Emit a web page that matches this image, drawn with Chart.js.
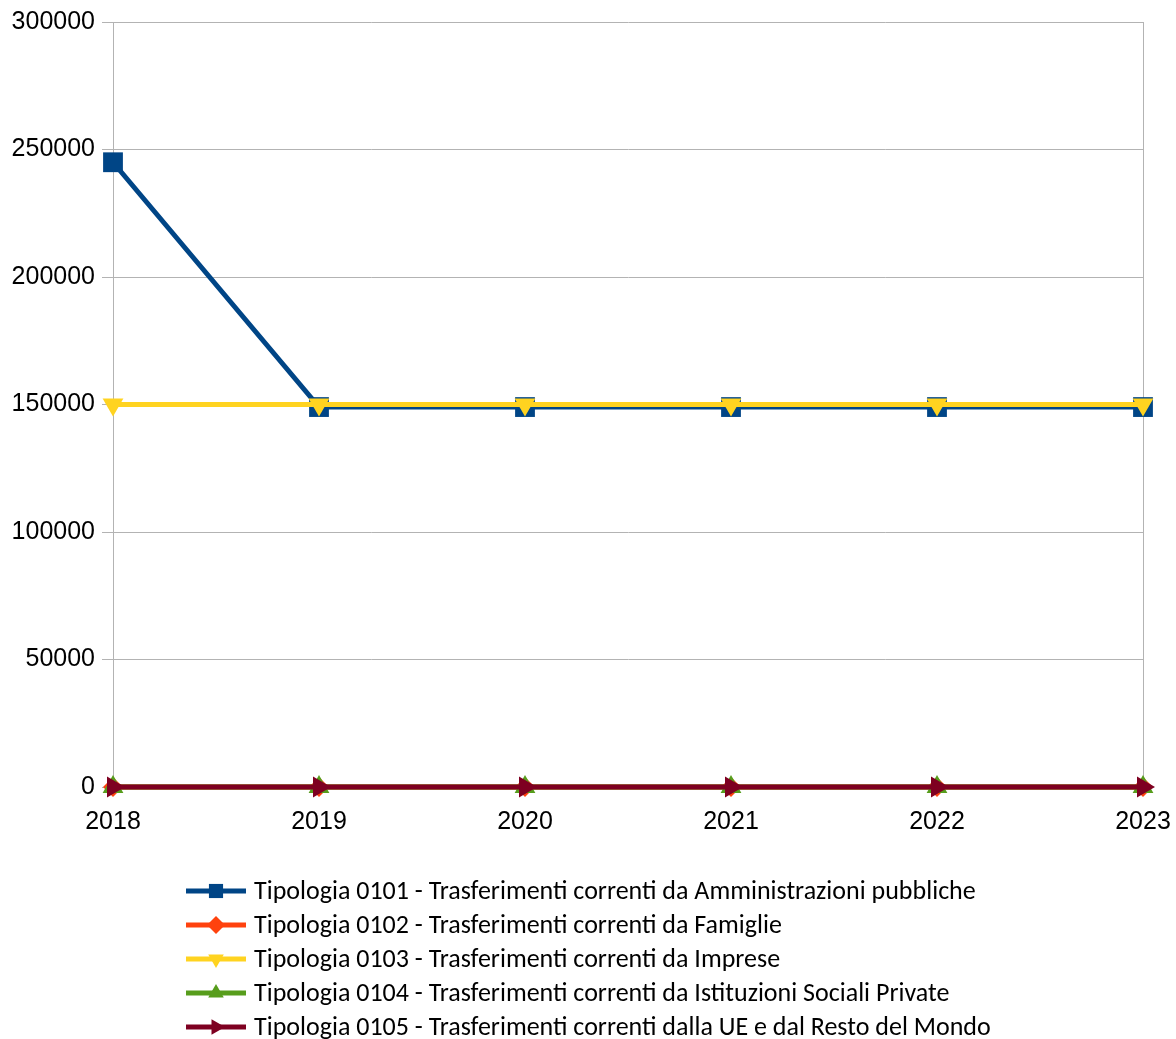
<!DOCTYPE html>
<html>
<head>
<meta charset="utf-8">
<script src="https://cdn.jsdelivr.net/npm/chart.js@4/dist/chart.umd.min.js"></script>
<style>
  html, body { margin: 0; padding: 0; background: #fff; }
  #wrap { width: 1176px; height: 1039px; }
</style>
</head>
<body>
<div id="wrap"><canvas id="myChart" width="1176" height="1039"></canvas></div>
<script>
// anni e valori
const years = ['2018', '2019', '2020', '2021', '2022', '2023'];
const tip0101 = [245000, 149000, 149000, 149000, 149000, 149000];
const tip0102 = [0, 0, 0, 0, 0, 0];
const tip0103 = [150000, 150000, 150000, 150000, 150000, 150000];
const tip0104 = [0, 0, 0, 0, 0, 0];
const tip0105 = [0, 0, 0, 0, 0, 0];
const yTicks = [0, 50000, 100000, 150000, 200000, 250000, 300000];

const seriesNames = [
  'Tipologia 0101 - Trasferimenti correnti da Amministrazioni pubbliche',
  'Tipologia 0102 - Trasferimenti correnti da Famiglie',
  'Tipologia 0103 - Trasferimenti correnti da Imprese',
  'Tipologia 0104 - Trasferimenti correnti da Istituzioni Sociali Private',
  'Tipologia 0105 - Trasferimenti correnti dalla UE e dal Resto del Mondo'
];

function serie(i, data, color, style, rot, radius) {
  return {
    label: seriesNames[i],
    data: data,
    borderColor: color,
    backgroundColor: color,
    borderWidth: 5,
    pointStyle: style,
    rotation: rot,
    pointRadius: radius,
    pointHoverRadius: radius,
    pointBorderWidth: 0,
    pointBackgroundColor: color,
    tension: 0,
    clip: false,
    order: 5 - i
  };
}

// legenda disegnata a mano: linea + simbolo, una voce per riga
const legendaLinee = {
  id: 'legendaLinee',
  afterDraw(chart) {
    const ctx = chart.ctx;
    const font = '26px Carlito, Lato, sans-serif';
    ctx.save();
    ctx.font = font;
    let maxW = 0;
    chart.data.datasets.forEach(ds => { maxW = Math.max(maxW, ctx.measureText(ds.label).width); });
    const blockW = 68 + maxW;
    const left = Math.round((chart.width - blockW) / 2);
    let y = 891;
    chart.data.datasets.forEach(ds => {
      ctx.strokeStyle = ds.borderColor;
      ctx.lineWidth = 5;
      ctx.beginPath();
      ctx.moveTo(left, y);
      ctx.lineTo(left + 60, y);
      ctx.stroke();
      ctx.fillStyle = ds.borderColor;
      Chart.helpers.drawPoint(ctx, {
        pointStyle: ds.pointStyle,
        rotation: ds.rotation,
        radius: ds.pointStyle === 'rect' ? 10 : 9,
        borderWidth: 0
      }, left + 30, y);
      ctx.fillStyle = '#000';
      ctx.textBaseline = 'middle';
      ctx.textAlign = 'left';
      ctx.fillText(ds.label, left + 68, y + 1);
      y += 34;
    });
    ctx.restore();
  }
};

const ctx = document.getElementById('myChart').getContext('2d');
const myChart = new Chart(ctx, {
  type: 'line',
  data: {
    labels: years,
    datasets: [
      serie(0, tip0101, '#004586', 'rect', 0, 14),
      serie(1, tip0102, '#ff420e', 'rectRot', 0, 10),
      serie(2, tip0103, '#ffd320', 'triangle', 180, 12),
      serie(3, tip0104, '#579d1c', 'triangle', 0, 12),
      serie(4, tip0105, '#7e0021', 'triangle', 90, 12)
    ]
  },
  options: {
    responsive: false,
    animation: false,
    layout: { padding: { top: 22, right: 33, bottom: 202, left: 0 } },
    plugins: {
      legend: { display: false },
      tooltip: { enabled: false }
    },
    scales: {
      x: {
        offset: false,
        afterFit: s => { s.height = 50; s.paddingLeft = 0; s.paddingRight = 0; },
        grid: {
          drawTicks: false,
          color: c => c.index === years.length - 1 ? '#b3b3b3' : 'rgba(0,0,0,0)'
        },
        border: { display: false },
        ticks: {
          color: '#000',
          padding: 20,
          maxRotation: 0,
          font: { family: 'Liberation Sans', size: 25 }
        }
      },
      y: {
        min: 0,
        max: 300000,
        afterBuildTicks: s => { s.ticks = yTicks.map(v => ({ value: v })); },
        afterFit: s => { s.width = 113; s.paddingTop = 0; s.paddingBottom = 0; },
        grid: { color: '#b3b3b3', tickLength: 11 },
        border: { display: true, color: '#b3b3b3' },
        ticks: {
          color: '#000',
          padding: 7,
          callback: v => String(v),
          font: { family: 'Liberation Sans', size: 25 }
        }
      }
    }
  },
  plugins: [legendaLinee]
});
</script>
</body>
</html>
